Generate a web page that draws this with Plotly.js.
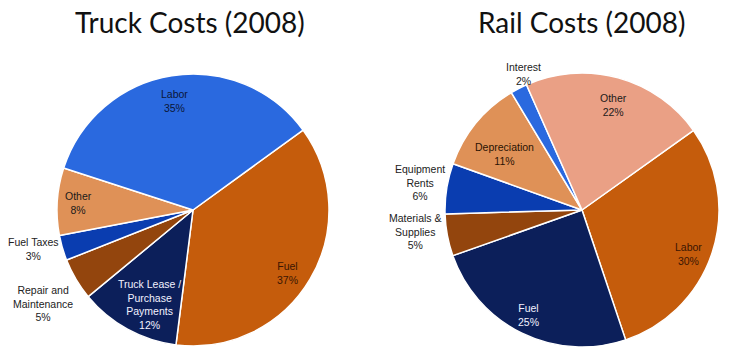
<!DOCTYPE html>
<html><head><meta charset="utf-8">
<script src="https://cdn.plot.ly/plotly-3.0.1.min.js"></script>
<style>html,body{margin:0;padding:0;background:#fff}#chart{width:736px;height:364px}</style>
</head><body><div id="chart"></div>
<script>
// Truck costs (2008)
const truckLabels = ["Fuel", "Truck Lease /<br>Purchase<br>Payments", "Repair and<br>Maintenance", "Fuel Taxes", "Other", "Labor"];
const truckValues = [37, 12, 5, 3, 8, 35];

// Rail costs (2008)
const railLabels = ["Labor", "Fuel", "Materials &<br>Supplies", "Equipment<br>Rents", "Depreciation", "Interest", "Other"];
const railValues = [30, 25, 5, 6, 11, 2, 22];

// styling (kept apart from the data)
const truckColors = ["#c55c0c", "#0c1f5a", "#93450d", "#0a3db0", "#df9157", "#2a69df"];
const truckTextColors = ["#3a1603", "#f2f2ff", "#222222", "#222222", "#1a1a1a", "#0a1738"];
const truckLabelPos = [[287, 273], [149, 304], [43, 303], [33, 249], [78, 202.5], [174, 100.5]];
const railColors = ["#c55c0c", "#0c1f5a", "#93450d", "#0a3db0", "#df9157", "#2a69df", "#eaa085"];
const railTextColors = ["#3a1603", "#f2f2ff", "#222222", "#222222", "#2a1303", "#222222", "#1a1a1a"];
const railLabelPos = [[688, 254], [528, 315], [415, 232], [420, 182], [504, 153.7], [523, 74.5], [613, 105.3]];

const W = 736, H = 364;
function dom(cx, cy, r) {
  return {x: [(cx - r) / W, (cx + r) / W], y: [(H - cy - r) / H, (H - cy + r) / H]};
}

const data = [
  {type: "pie", sort: false, direction: "clockwise", textinfo: "none", hoverinfo: "none", showlegend: false,
   labels: truckLabels, values: truckValues, rotation: 54, domain: dom(193, 210, 136),
   marker: {colors: truckColors, line: {color: "#ffffff", width: 1.5}}},
  {type: "pie", sort: false, direction: "clockwise", textinfo: "none", hoverinfo: "none", showlegend: false,
   labels: railLabels, values: railValues, rotation: 54.5, domain: dom(582, 210, 137),
   marker: {colors: railColors, line: {color: "#ffffff", width: 1.5}}}
];

const annotations = [
  {text: "Truck Costs (2008)", x: 189.5 / W, y: 1 - 22 / H, xref: "paper", yref: "paper",
   showarrow: false, xanchor: "center", yanchor: "middle",
   font: {family: "Lato, Open Sans, sans-serif", size: 28, color: "#111111"}},
  {text: "Rail Costs (2008)", x: 581.5 / W, y: 1 - 22 / H, xref: "paper", yref: "paper",
   showarrow: false, xanchor: "center", yanchor: "middle",
   font: {family: "Lato, Open Sans, sans-serif", size: 28, color: "#111111"}}
];
function addLabels(labels, values, pos, colors) {
  labels.forEach((lab, i) => {
    annotations.push({
      text: lab + "<br>" + values[i] + "%",
      x: pos[i][0] / W, y: 1 - pos[i][1] / H, xref: "paper", yref: "paper",
      showarrow: false, xanchor: "center", yanchor: "middle", align: "center",
      font: {family: "Liberation Sans, Arial, sans-serif", size: 10.5, color: colors[i]}
    });
  });
}
addLabels(truckLabels, truckValues, truckLabelPos, truckTextColors);
addLabels(railLabels, railValues, railLabelPos, railTextColors);

const layout = {
  width: W, height: H,
  margin: {l: 0, r: 0, t: 0, b: 0},
  paper_bgcolor: "#ffffff",
  annotations: annotations
};

Plotly.newPlot("chart", data, layout, {displayModeBar: false, staticPlot: true});
</script></body></html>
